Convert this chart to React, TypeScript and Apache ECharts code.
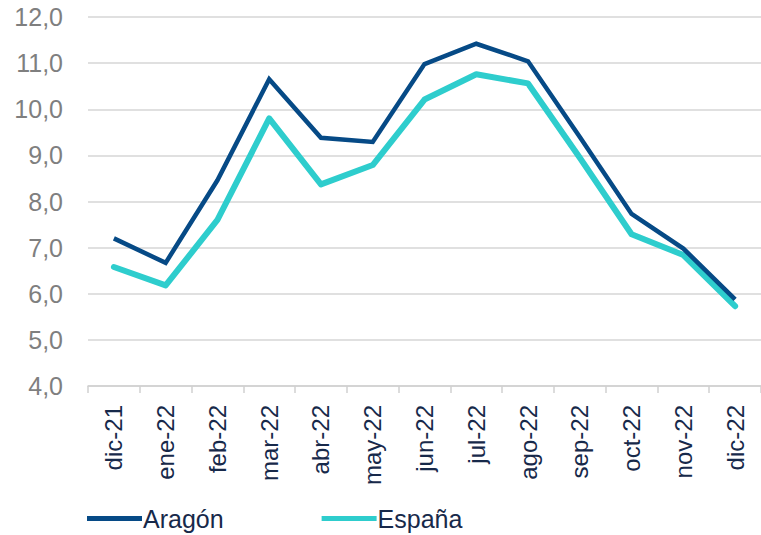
import React, { useEffect, useRef } from "react";
import * as echarts from "echarts";

const categories = ["dic-21", "ene-22", "feb-22", "mar-22", "abr-22", "may-22", "jun-22", "jul-22", "ago-22", "sep-22", "oct-22", "nov-22", "dic-22"];
const aragon = [7.2, 6.67, 8.46, 10.65, 9.38, 9.29, 10.98, 11.42, 11.04, 9.4, 7.73, 6.98, 5.88];
const espana = [6.58, 6.18, 7.6, 9.8, 8.37, 8.79, 10.21, 10.76, 10.56, 8.95, 7.29, 6.84, 5.73];
const yTicks = { min: 4, max: 12, interval: 1 };

const FONT = "'Liberation Sans', Arial, sans-serif";

export default function App() {
  const ref = useRef<HTMLDivElement>(null);
  useEffect(() => {
    if (!ref.current) return;
    const chart = echarts.init(ref.current, undefined, { renderer: "svg" });
    chart.setOption({
      animation: false,
      textStyle: { fontFamily: FONT },
      grid: { left: 88, right: -4, top: 17, bottom: 149, containLabel: false },
      legend: {
        data: ["Aragón", "España"],
        left: 82,
        top: 501,
        icon: "rect",
        itemWidth: 55,
        itemHeight: 5,
        itemGap: 98,
        textStyle: { fontSize: 25, color: "#17294A", fontFamily: FONT, padding: [0, 0, 0, -4] },
      },
      xAxis: {
        type: "category",
        data: categories,
        boundaryGap: true,
        axisLine: { show: true, lineStyle: { color: "#d0d0d0", width: 1.5 } },
        axisTick: { show: true, length: 7, lineStyle: { color: "#d0d0d0", width: 1.5 } },
        axisLabel: { rotate: 90, fontSize: 24, color: "#17294A", margin: 19, fontFamily: FONT, interval: 0 },
        splitLine: { show: false },
      },
      yAxis: {
        type: "value",
        min: yTicks.min,
        max: yTicks.max,
        interval: yTicks.interval,
        axisLine: { show: false },
        axisTick: { show: false },
        axisLabel: {
          fontSize: 25,
          color: "#7F7F7F",
          margin: 25,
          fontFamily: FONT,
          formatter: (v: number) => v.toFixed(1).replace(".", ","),
        },
        splitLine: { show: true, lineStyle: { color: "#d6d6d6", width: 1.5 } },
      },
      series: [
        {
          name: "España",
          type: "line",
          data: espana,
          symbol: "none",
          z: 2,
          itemStyle: { color: "#2ECDCD" },
          lineStyle: { color: "#2ECDCD", width: 6, cap: "round", join: "round" },
        },
        {
          name: "Aragón",
          type: "line",
          data: aragon,
          symbol: "none",
          z: 3,
          itemStyle: { color: "#064A86" },
          lineStyle: { color: "#064A86", width: 4.5, join: "miter" },
        },
      ],
    });
    return () => chart.dispose();
  }, []);
  return <div ref={ref} style={{ width: 761, height: 535, position: "absolute", left: 0, top: 0 }} />;
}
